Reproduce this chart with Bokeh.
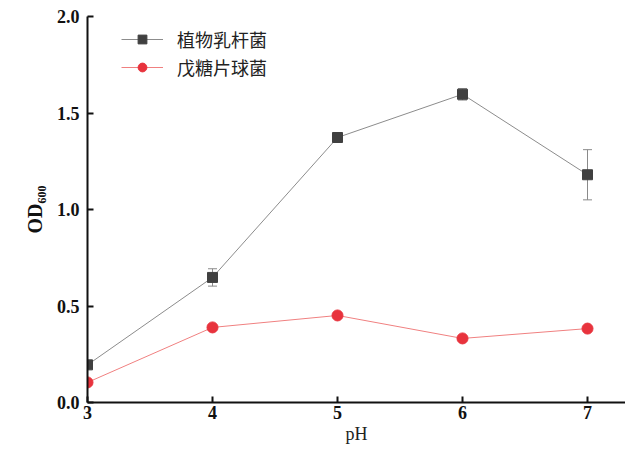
from bokeh.plotting import figure
from bokeh.models import (ColumnDataSource, Whisker, TeeHead, Legend, LegendItem,
                          FixedTicker, Range1d, CustomJSTickFormatter)
from bokeh.embed import file_html
from bokeh.resources import INLINE

ph = [3, 4, 5, 6, 7]
lp_od = [0.195, 0.648, 1.373, 1.597, 1.180]
lp_err = [0.02, 0.045, 0.025, 0.03, 0.13]
pp_od = [0.104, 0.389, 0.451, 0.332, 0.383]
legend_labels = ["植物乳杆菌", "戊糖片球菌"]
y_ticks = [0.0, 0.5, 1.0, 1.5, 2.0]
x_ticks = [3, 4, 5, 6, 7]

p = figure(width=625, height=452, output_backend="svg", toolbar_location=None,
           x_range=Range1d(3, 7.304), y_range=Range1d(0, 2.0),
           min_border_left=87, min_border_right=0, min_border_top=16, min_border_bottom=50)
p.outline_line_color = None
p.xgrid.visible = False
p.ygrid.visible = False
p.background_fill_color = "white"

src_lp = ColumnDataSource(dict(x=ph, y=lp_od,
                               lower=[a - b for a, b in zip(lp_od, lp_err)],
                               upper=[a + b for a, b in zip(lp_od, lp_err)]))
src_pp = ColumnDataSource(dict(x=ph, y=pp_od))

w = Whisker(source=src_lp, base="x", upper="upper", lower="lower",
            line_color="#8a8a8a", line_width=1,
            upper_head=TeeHead(size=9, line_color="#8a8a8a", line_width=1),
            lower_head=TeeHead(size=9, line_color="#8a8a8a", line_width=1))
p.add_layout(w)

l1 = p.line("x", "y", source=src_lp, line_color="#8c8c8c", line_width=1)
m1 = p.scatter("x", "y", source=src_lp, marker="square", size=10,
               fill_color="#404040", line_color="#404040")
l2 = p.line("x", "y", source=src_pp, line_color="#f08080", line_width=1)
m2 = p.scatter("x", "y", source=src_pp, marker="circle", size=11,
               fill_color="#e8333d", line_color="#e8333d")

legend = Legend(items=[LegendItem(label=legend_labels[0], renderers=[l1, m1]),
                       LegendItem(label=legend_labels[1], renderers=[l2, m2])],
                location=(34, 322))
legend.border_line_color = None
legend.background_fill_alpha = 0
legend.label_text_font = "Noto Sans CJK SC"
legend.label_text_font_size = "18px"
legend.label_text_color = "#222222"
legend.glyph_width = 42
legend.glyph_height = 22
legend.label_height = 22
legend.spacing = 2
legend.padding = 2
legend.label_standoff = 14
p.add_layout(legend)

for ax in (p.xaxis[0], p.yaxis[0]):
    ax.axis_line_width = 2
    ax.axis_line_color = "#111111"
    ax.major_tick_in = 6
    ax.major_tick_out = 0
    ax.major_tick_line_width = 2
    ax.major_tick_line_color = "#111111"
    ax.minor_tick_line_color = None
    ax.major_label_text_font = "Liberation Serif"
    ax.major_label_text_font_style = "bold"
    ax.major_label_text_font_size = "18px"
    ax.major_label_text_color = "#111111"

p.xaxis.ticker = FixedTicker(ticks=x_ticks)
p.yaxis.ticker = FixedTicker(ticks=y_ticks)
p.yaxis.formatter = CustomJSTickFormatter(code="return tick.toFixed(1);")
p.xaxis.major_label_standoff = 3
p.yaxis.major_label_standoff = 8

p.xaxis.axis_label = "pH"
p.xaxis.axis_label_text_font = "Liberation Serif"
p.xaxis.axis_label_text_font_style = "normal"
p.xaxis.axis_label_text_font_size = "18px"
p.xaxis.axis_label_text_color = "#222222"
p.xaxis.axis_label_standoff = 2

p.yaxis.axis_label = "OD₆₀₀"
p.yaxis.axis_label_text_font = "Liberation Serif"
p.yaxis.axis_label_text_font_style = "bold"
p.yaxis.axis_label_text_font_size = "20px"
p.yaxis.axis_label_text_color = "#111111"
p.yaxis.axis_label_standoff = 8

open("out.html", "w").write(file_html(p, INLINE))
